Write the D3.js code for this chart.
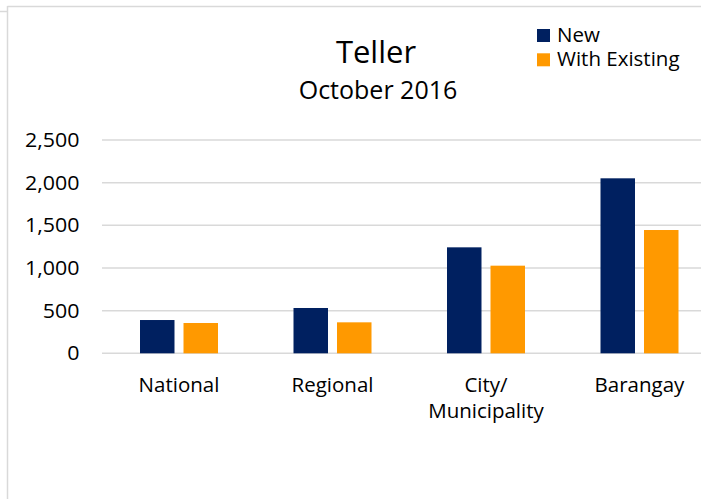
<!DOCTYPE html>
<html><head><meta charset="utf-8">
<script src="https://cdn.jsdelivr.net/npm/d3@7"></script>
<style>html,body{margin:0;padding:0;background:#fff;}svg{display:block;}text{font-family:"Open Sans",Lato,sans-serif;fill:#000;}</style>
</head><body>
<script>
const categories = ["National", "Regional", "City/\nMunicipality", "Barangay"];
const seriesNames = ["New", "With Existing"];
const newValues = [390, 531, 1242, 2051];
const existingValues = [355, 363, 1027, 1445];
const yTicks = [0, 500, 1000, 1500, 2000, 2500];
const colors = ["#002060", "#FF9900"];

const W = 701, H = 499;
const svg = d3.select("body").append("svg").attr("width", W).attr("height", H);

// outer frame
svg.append("line").attr("x1", 0).attr("x2", 8).attr("y1", 11.5).attr("y2", 11.5).attr("stroke", "#d9d9d9").attr("stroke-width", 1.5);
svg.append("line").attr("x1", 7.5).attr("x2", W).attr("y1", 6.5).attr("y2", 6.5).attr("stroke", "#d9d9d9").attr("stroke-width", 1.5);
svg.append("line").attr("x1", 7.5).attr("x2", 7.5).attr("y1", 6).attr("y2", H).attr("stroke", "#d9d9d9").attr("stroke-width", 1.5);

const y = d3.scaleLinear().domain([0, 2500]).range([353.3, 140]);
const x0 = d3.scaleBand().domain(categories).range([102.25, 716.25]).padding(0);
const x1 = d3.scaleBand().domain(seriesNames).range([37.75, 115.75]).paddingInner(0.207).paddingOuter(0);

// gridlines
svg.append("g").selectAll("line").data(yTicks).join("line")
  .attr("x1", 102).attr("x2", W).attr("y1", d => y(d)).attr("y2", d => y(d))
  .attr("stroke", "#d9d9d9").attr("stroke-width", 1.5);

// y axis labels
const yAxis = d3.axisLeft(y).tickValues(yTicks).tickFormat(d3.format(",")).tickSize(0).tickPadding(0);
const ya = svg.append("g").attr("transform", "translate(79.5,0)").call(yAxis);
ya.select(".domain").remove();
ya.selectAll("text").style("font-family", "'Open Sans', sans-serif").style("font-size", "20px")
  .attr("fill", "#000").attr("transform", "scale(1.07,1)");

// bars
const data = categories.map((c, i) => ({cat: c, vals: [newValues[i], existingValues[i]]}));
const groups = svg.append("g").selectAll("g").data(data).join("g")
  .attr("transform", d => `translate(${x0(d.cat)},0)`);
groups.selectAll("rect").data(d => d.vals.map((v, j) => ({s: seriesNames[j], v, j}))).join("rect")
  .attr("x", d => x1(d.s)).attr("width", x1.bandwidth())
  .attr("y", d => y(d.v)).attr("height", d => y(0) - y(d.v))
  .attr("fill", d => colors[d.j]);

// x axis labels
const xa = svg.append("g");
categories.forEach(c => {
  const lines = c.split("\n");
  const cx = x0(c) + x0.bandwidth() / 2;
  const t = xa.append("text").attr("x", cx).attr("y", 392)
    .attr("text-anchor", "middle").style("font-size", "20.5px");
  lines.forEach((l, i) => t.append("tspan").attr("x", cx).attr("dy", i === 0 ? 0 : 26).text(l));
});

// title
svg.append("text").attr("x", 376).attr("y", 63).attr("text-anchor", "middle").style("font-size", "31px").text("Teller");
svg.append("text").attr("x", 378).attr("y", 98.5).attr("text-anchor", "middle").style("font-size", "25px").text("October 2016");

// legend
const lg = svg.append("g");
seriesNames.forEach((s, i) => {
  lg.append("rect").attr("x", 537).attr("y", 29 + i * 24.3).attr("width", 13).attr("height", 13).attr("fill", colors[i]);
  lg.append("text").attr("x", 557).attr("y", 41.7 + i * 24).style("font-size", "20.5px").text(s);
});
</script>
</body></html>
